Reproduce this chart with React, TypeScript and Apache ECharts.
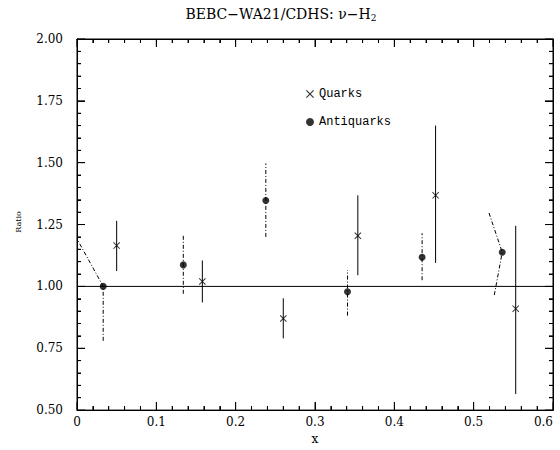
import React, { useEffect, useRef } from "react";
import * as echarts from "echarts";

// Quarks (crosses) with error bars
const quarkX = [0.050, 0.158, 0.260, 0.354, 0.452, 0.553];
const quarkY = [1.165, 1.020, 0.870, 1.205, 1.368, 0.910];
const quarkLow = [1.062, 0.935, 0.790, 1.045, 1.095, 0.565];
const quarkHigh = [1.265, 1.105, 0.952, 1.368, 1.650, 1.245];

// Antiquarks (filled circles); error-bar ends may be offset in x
const antiX = [0.033, 0.134, 0.238, 0.341, 0.435, 0.536];
const antiY = [1.000, 1.087, 1.347, 0.978, 1.118, 1.138];
const antiLowX = [0.033, 0.134, 0.238, 0.341, 0.435, 0.526];
const antiLow = [0.780, 0.970, 1.200, 0.882, 1.025, 0.965];
const antiHighX = [0.000, 0.134, 0.238, 0.341, 0.435, 0.519];
const antiHigh = [1.192, 1.207, 1.497, 1.066, 1.215, 1.300];

// Reference line at ratio 1
const refLineX = [0, 0.6];
const refLineY = [1, 1];

// Axis ticks
const xTicks = [0, 0.1, 0.2, 0.3, 0.4, 0.5, 0.6];
const yTicks = [0.5, 0.75, 1.0, 1.25, 1.5, 1.75, 2.0];
const MINOR_SPLIT = 5;

const X_MIN = 0, X_MAX = 0.6, Y_MIN = 0.5, Y_MAX = 2.0;

const CROSS =
  "path://M0,1 L1,0 L5,4 L9,0 L10,1 L6,5 L10,9 L9,10 L5,6 L1,10 L0,9 L4,5 Z";

const FONT = "DejaVu Serif";

export default function App() {
  const ref = useRef<HTMLDivElement>(null);

  useEffect(() => {
    if (!ref.current) return;
    document.body.style.margin = "0";
    const chart = echarts.init(ref.current, null, { renderer: "svg" });

    const quarkPts = quarkX.map((x, i) => [x, quarkY[i]]);
    const antiPts = antiX.map((x, i) => [x, antiY[i]]);

    const quarkBarData: any[] = [];
    quarkX.forEach((x, i) => {
      quarkBarData.push([x, quarkLow[i]], [x, quarkY[i]], [x, quarkHigh[i]], ["-", "-"]);
    });
    const antiBarData: any[] = [];
    antiX.forEach((x, i) => {
      antiBarData.push([antiLowX[i], antiLow[i]], [x, antiY[i]], [antiHighX[i], antiHigh[i]], ["-", "-"]);
    });

    // tick marks on all four sides: [side, value, isMajor, xRef, yRef]
    const tickData: any[] = [];
    const addTicks = (ticks: number[], sides: number[]) => {
      for (let i = 0; i < ticks.length; i++) {
        sides.forEach((s) => tickData.push([s, ticks[i], 1, 0.3, 1.0]));
        if (i < ticks.length - 1) {
          const step = (ticks[i + 1] - ticks[i]) / MINOR_SPLIT;
          for (let k = 1; k < MINOR_SPLIT; k++) {
            sides.forEach((s) => tickData.push([s, ticks[i] + k * step, 0, 0.3, 1.0]));
          }
        }
      }
    };
    addTicks(xTicks, [0, 1]);
    addTicks(yTicks, [2, 3]);

    const tickRender = (params: any, api: any) => {
      const side = api.value(0);
      const v = api.value(1);
      const len = api.value(2) ? 8 : 4;
      let p: number[];
      let q: number[];
      if (side === 0) {
        p = api.coord([v, Y_MIN]);
        q = [p[0], p[1] - len];
      } else if (side === 1) {
        p = api.coord([v, Y_MAX]);
        q = [p[0], p[1] + len];
      } else if (side === 2) {
        p = api.coord([X_MIN, v]);
        q = [p[0] + len, p[1]];
      } else {
        p = api.coord([X_MAX, v]);
        q = [p[0] - len, p[1]];
      }
      return {
        type: "line",
        shape: { x1: p[0], y1: p[1], x2: q[0], y2: q[1] },
        style: { stroke: "#000", lineWidth: 1 },
      };
    };

    const axisCommon = {
      type: "value",
      axisLine: { show: true, onZero: false, lineStyle: { color: "#000", width: 1 } },
      axisTick: { show: true, inside: true, length: 8, lineStyle: { color: "#000" } },
      minorTick: { show: true, splitNumber: 5, length: 4, lineStyle: { color: "#000" } },
      splitLine: { show: false },
      minorSplitLine: { show: false },
    };

    chart.setOption({
      animation: false,
      title: {
        text: "BEBC−WA21/CDHS: ν−H{sub|2}",
        left: 276,
        textAlign: "center",
        top: 1,
        textStyle: {
          fontFamily: FONT,
          fontSize: 14,
          fontWeight: "normal",
          color: "#000",
          rich: { sub: { fontFamily: FONT, fontSize: 9, verticalAlign: "bottom", padding: [7, 0, 0, 0] } },
        },
      },
      grid: {
        left: 77, right: 7, top: 39, bottom: 37,
        show: true, borderColor: "#000", borderWidth: 1, backgroundColor: "transparent",
      },
      legend: {
        orient: "vertical",
        left: 301,
        top: 83,
        itemWidth: 8,
        itemHeight: 8,
        itemGap: 16,
        data: [
          { name: "Quarks", icon: CROSS },
          { name: "Antiquarks", icon: "circle" },
        ],
        textStyle: { fontFamily: "Liberation Mono", fontSize: 12, color: "#000" },
      },
      xAxis: [
        {
          ...axisCommon,
          min: X_MIN,
          max: X_MAX,
          interval: 0.1,
          name: "x",
          nameLocation: "middle",
          nameGap: 22,
          nameTextStyle: { fontFamily: FONT, fontSize: 12, color: "#000" },
          axisLabel: {
            show: true,
            margin: 6,
            fontFamily: FONT,
            fontSize: 12,
            color: "#000",
            alignMaxLabel: "right",
            formatter: (v: number) => {
              const t = xTicks.find((k) => Math.abs(k - v) < 1e-9);
              if (t === undefined) return "";
              return t === 0 ? "0" : t.toFixed(1);
            },
          },
        },
        {
          ...axisCommon,
          position: "top",
          min: X_MIN,
          max: X_MAX,
          interval: 0.1,
          axisLabel: { show: false },
        },
      ],
      yAxis: [
        {
          ...axisCommon,
          min: Y_MIN,
          max: Y_MAX,
          interval: 0.25,
          axisLabel: {
            show: true,
            margin: 14,
            fontFamily: FONT,
            fontSize: 12,
            color: "#000",
            formatter: (v: number) => v.toFixed(2),
          },
        },
        {
          ...axisCommon,
          position: "right",
          min: Y_MIN,
          max: Y_MAX,
          interval: 0.25,
          axisLabel: { show: false },
        },
      ],
      graphic: [
        {
          type: "text",
          x: 18,
          y: 222,
          rotation: Math.PI / 2,
          style: {
            text: "Ratio",
            fontFamily: FONT,
            fontSize: 8,
            fill: "#000",
            align: "center",
            verticalAlign: "middle",
          },
        },
      ],
      series: [
        {
          name: "ref",
          type: "line",
          data: refLineX.map((x, i) => [x, refLineY[i]]),
          symbol: "none",
          lineStyle: { color: "#000", width: 1 },
          silent: true,
        },
        {
          name: "frame",
          type: "line",
          xAxisIndex: 1,
          yAxisIndex: 1,
          data: [],
          symbol: "none",
          silent: true,
        },
        {
          name: "ticks",
          type: "custom",
          renderItem: tickRender,
          data: tickData,
          encode: { x: 3, y: 4 },
          silent: true,
          z: 5,
        },
        {
          name: "quarkErr",
          type: "line",
          data: quarkBarData,
          symbol: "none",
          connectNulls: false,
          lineStyle: { color: "#000", width: 1 },
          silent: true,
        },
        {
          name: "antiErr",
          type: "line",
          data: antiBarData,
          symbol: "none",
          connectNulls: false,
          lineStyle: { color: "#000", width: 1, type: [4, 2, 1, 2] },
          silent: true,
        },
        {
          name: "Quarks",
          type: "scatter",
          data: quarkPts,
          symbol: CROSS,
          symbolSize: 7,
          itemStyle: { color: "#000" },
        },
        {
          name: "Antiquarks",
          type: "scatter",
          data: antiPts,
          symbol: "circle",
          symbolSize: 7,
          itemStyle: { color: "#000" },
        },
      ],
    });

    return () => chart.dispose();
  }, []);

  return <div ref={ref} style={{ width: 560, height: 450 }} />;
}
